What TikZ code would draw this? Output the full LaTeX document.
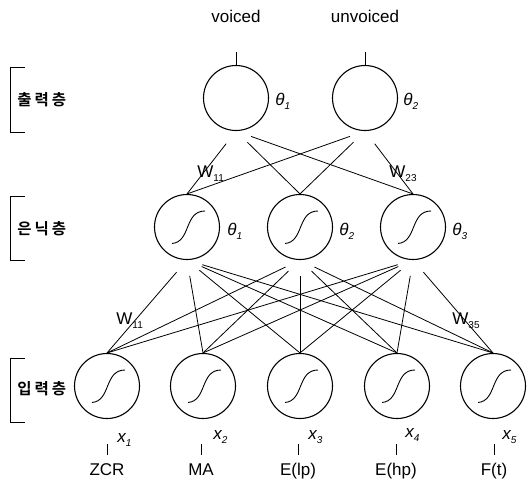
\documentclass[tikz,border=0pt]{standalone}
\usepackage{fontspec}
\setmainfont{Liberation Sans}
\newfontfamily\kofont{Noto Sans CJK KR}[BoldFont={Noto Sans CJK KR Bold}]
\newcommand{\lowsub}[1]{\raisebox{-4pt}{\fontsize{10}{10}\selectfont #1}}
\newcommand{\kgap}{\hspace{3pt}}
\begin{document}
\begin{tikzpicture}[x=1pt,y=-1pt,line width=0.8pt,
  neuron/.style={circle,draw,line width=1.1pt,minimum size=65pt,inner sep=0pt},
  signeuron/.style={neuron,path picture={
      \draw[line width=0.9pt,shift={(path picture bounding box.center)}]
        (-15pt,-16.5pt) .. controls (4pt,-15pt) and (-3pt,16pt) .. (18pt,16pt);}},
  txt/.style={font=\fontsize{17}{17}\selectfont,inner sep=0pt},
  wlbl/.style={txt,anchor=base west},
  greek/.style={font=\fontsize{17}{17}\selectfont\itshape,inner sep=0pt,anchor=base west},
  layer/.style={font=\fontsize{15.5}{16}\selectfont\kofont\bfseries,inner sep=0pt,anchor=west},
  bracket/.style={line width=0.9pt},
  tick/.style={line width=0.8pt}]
\useasboundingbox (0,0) rectangle (528,482);

% output layer
\node[neuron] (o1) at (236,98) {};
\node[neuron] (o2) at (365,98) {};
% hidden layer
\node[signeuron] (h1) at (187,227) {};
\node[signeuron] (h2) at (300,227) {};
\node[signeuron] (h3) at (413,227) {};
% input layer
\foreach \k/\x in {1/107,2/203,3/300,4/397,5/493}
  \node[signeuron] (i\k) at (\x,386) {};

% weights hidden -> input
\foreach \h in {1,2,3}
  \foreach \k in {1,...,5}
    \draw[shorten >=16pt] (i\k.north) -- (h\h.south);
% weights output -> hidden
\foreach \o in {1,2}
  \foreach \h in {1,2,3}
    \draw[shorten <=16pt] (o\o.south) -- (h\h.north);

% output ticks and class names
\coordinate (t1) at (236,52);
\coordinate (t2) at (365,52);
\draw[tick] (o1.north) -- (t1);
\draw[tick] (o2.north) -- (t2);
\node[txt,anchor=base] (v1) at (236,22.5) {voiced};
\node[txt,anchor=base] (v2) at (365,22.5) {unvoiced};

% thresholds
\node[greek] (th1) at (275,105) {θ\lowsub{1}};
\node[greek] (th2) at (403,105) {θ\lowsub{2}};
\node[greek] (hh1) at (227,235) {θ\lowsub{1}};
\node[greek] (hh2) at (339,235) {θ\lowsub{2}};
\node[greek] (hh3) at (452,235) {θ\lowsub{3}};

% weight labels
\node[wlbl] (w11a) at (197,177) {W\lowsub{11}};
\node[wlbl] (w23) at (389,177) {W\lowsub{23}};
\node[wlbl] (w11b) at (116,324) {W\lowsub{11}};
\node[wlbl] (w35) at (452,324) {W\lowsub{35}};

% input variables
\foreach \k/\x/\y in {1/117/442,2/213/439,3/308/439,4/405/437,5/502/439}
  \node[greek] (x\k) at (\x,\y) {x\lowsub{\k}};
% input feature names
\foreach \k/\x/\name in {1/107/ZCR,2/201/MA,3/298/E(lp),4/396/E(hp),5/494/F(t)}{
  \coordinate (ua\k) at (\x,444);
  \coordinate (ub\k) at (\x,455);
  \draw[tick] (ua\k) -- (ub\k);
  \node[txt,anchor=base] (n\k) at (\x,475) {\name};
}

% layer brackets
\foreach \n/\a/\b in {out/67/132,hid/196/260,inp/358/422}{
  \coordinate (\n a) at (25,\a);
  \coordinate (\n b) at (25,\b);
  \draw[bracket] (\n a) -- (10,\a) -- (10,\b) -- (\n b);
}
\node[layer] (lo) at (17,100) {출\kgap 력\kgap 층};
\node[layer] (lh) at (17,229) {은\kgap 닉\kgap 층};
\node[layer] (li) at (17,389) {입\kgap 력\kgap 층};
\end{tikzpicture}
\end{document}
